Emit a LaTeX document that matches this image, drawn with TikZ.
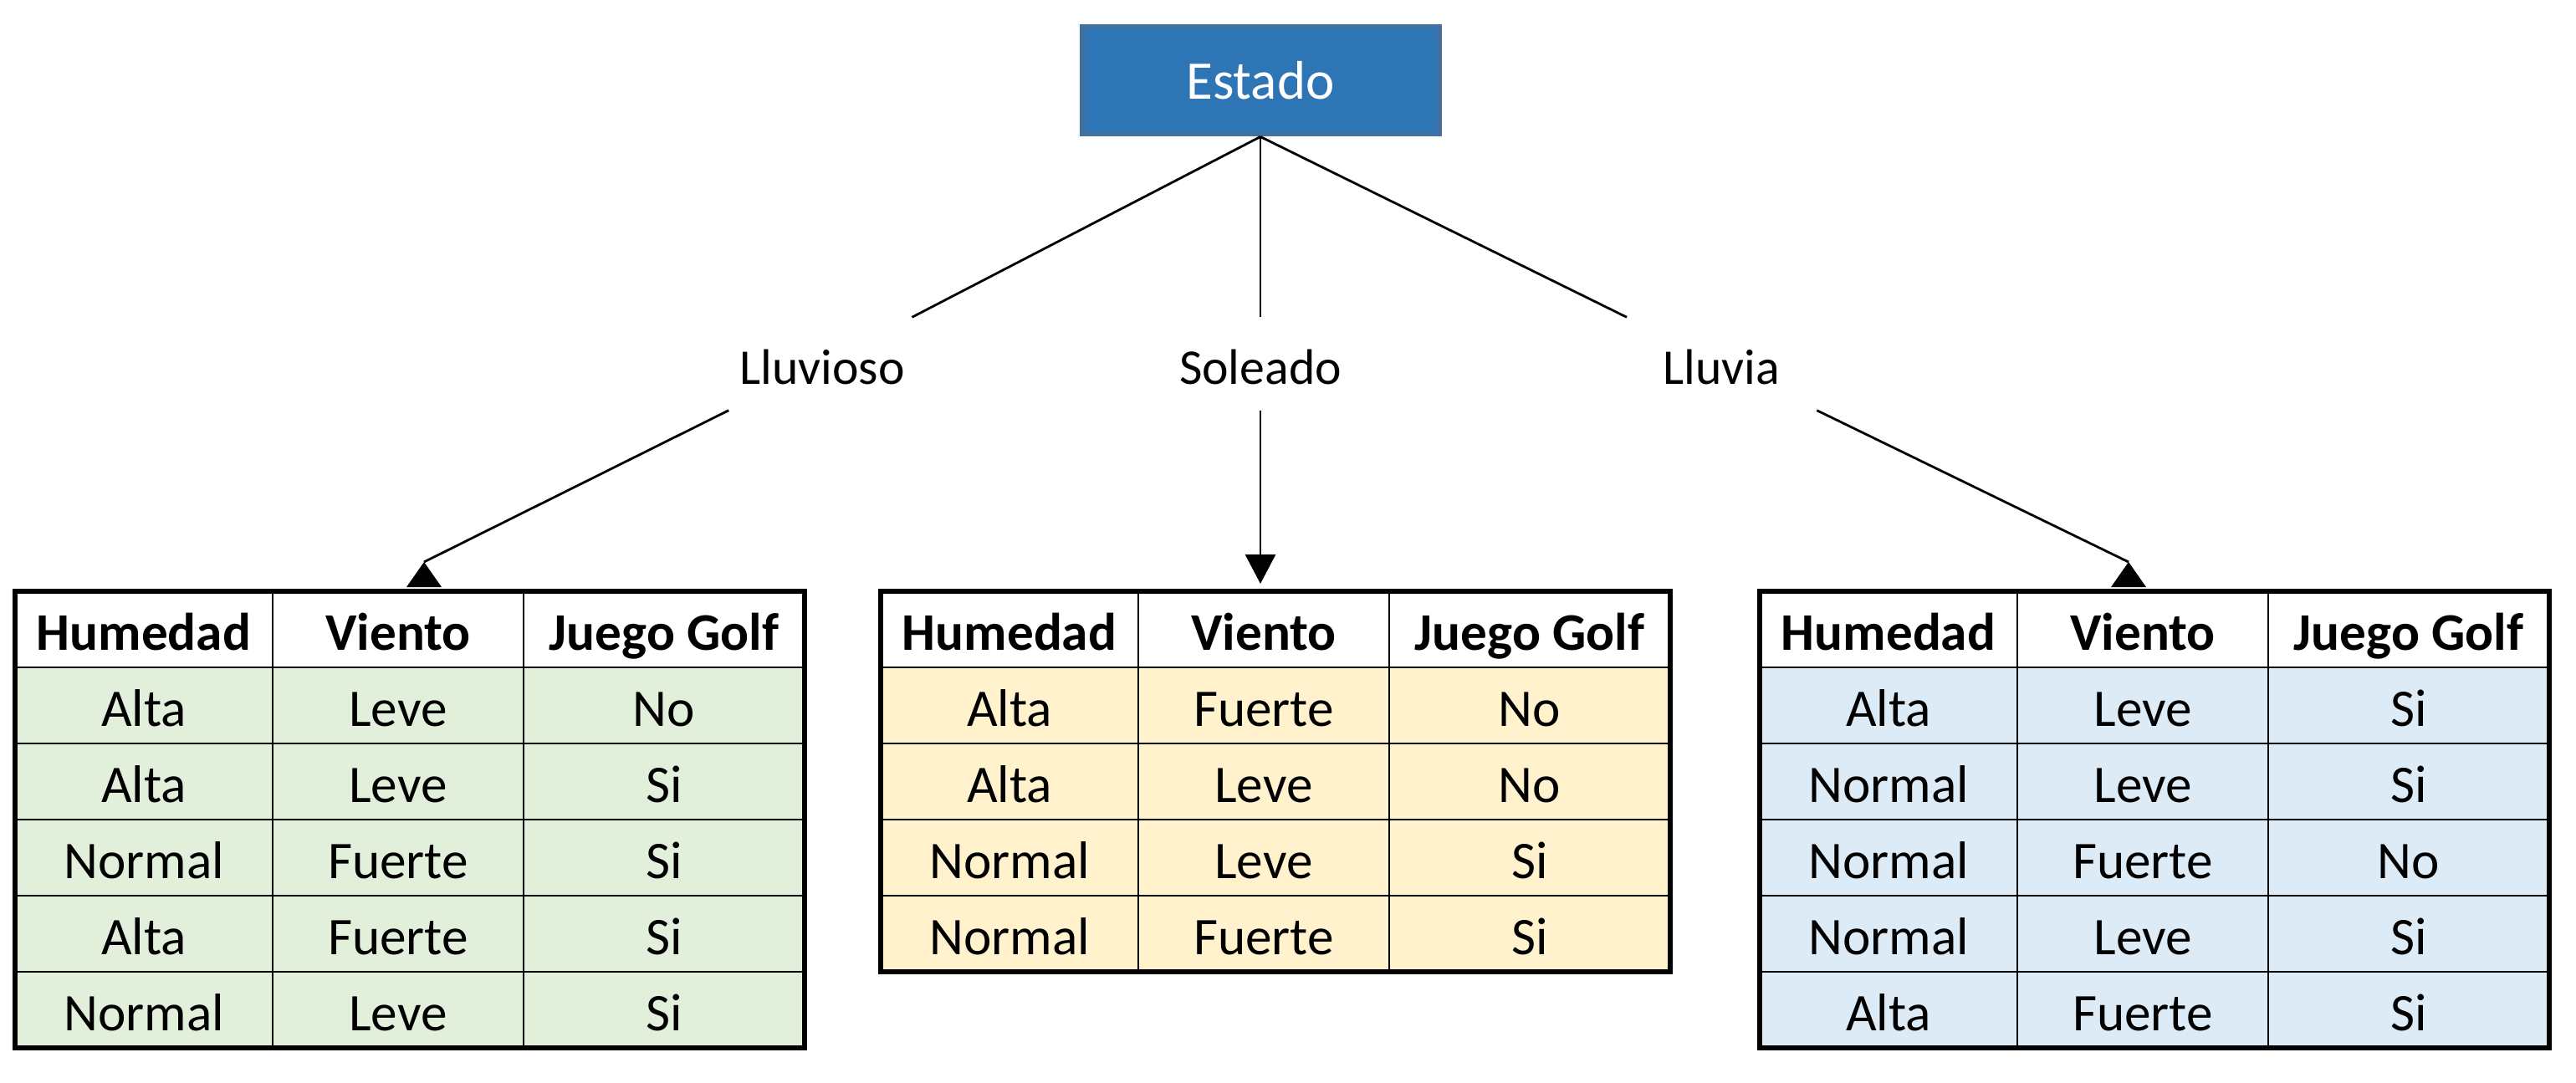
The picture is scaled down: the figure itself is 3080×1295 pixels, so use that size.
\documentclass[tikz,border=0pt]{standalone}
\usepackage{fontspec}
\setmainfont{Carlito}
\usetikzlibrary{positioning,arrows.meta}
\definecolor{azulEstado}{HTML}{2E75B6}
\definecolor{bordeEstado}{HTML}{41719C}
\definecolor{verdeTab}{HTML}{E2EFDA}
\definecolor{amarilloTab}{HTML}{FFF2CC}
\definecolor{azulTab}{HTML}{DDEBF7}

% una tabla: nombre, x izquierda, color, filas, ultima fila
\newcommand{\tabla}[5]{%
  \node[cab, minimum width=3.08cm] (#1-0-1) at (#2,707) {Humedad};
  \node[cab, minimum width=3cm] (#1-0-2) at ({#2+308},707) {Viento};
  \node[cab, minimum width=3.36cm] (#1-0-3) at ({#2+608},707) {Juego Golf};
  \foreach \a/\b/\c [count=\i] in {#4} {
    \node[celda, fill=#3, minimum width=3.08cm] (#1-\i-1) at (#2,{707+91*\i}) {\a};
    \node[celda, fill=#3, minimum width=3cm] (#1-\i-2) at ({#2+308},{707+91*\i}) {\b};
    \node[celda, fill=#3, minimum width=3.36cm] (#1-\i-3) at ({#2+608},{707+91*\i}) {\c};
  }
  \draw[line width=1.7pt] (#1-0-1.north west) rectangle (#1-#5-3.south east);
}

\begin{document}
\begin{tikzpicture}[x=0.1mm, y=-0.1mm, font=\fontsize{18}{21}\selectfont,
  celda/.style={draw, line width=0.8pt, inner sep=0pt, outer sep=0pt, minimum height=0.91cm, text height=15pt, text depth=1pt, anchor=north west},
  cab/.style={celda, fill=white, font=\fontsize{18}{21}\selectfont\bfseries},
  rama/.style={line width=0.8pt},
  etiqueta/.style={minimum width=2.4cm, minimum height=1.1cm, inner sep=0pt, text height=15pt, text depth=1pt, font=\fontsize{17}{20}\selectfont}]

\useasboundingbox (0,0) rectangle (3080,1295);

\node[draw=bordeEstado, line width=1.7pt, fill=azulEstado, text=white, minimum width=4.27cm, minimum height=1.29cm, inner sep=0pt, font=\fontsize{18.5}{22}\selectfont] (estado) at (1507,96) {Estado};

\node[etiqueta] (lluvioso) at (983,435) {Lluvioso};
\node[etiqueta] (soleado) at (1507,435) {Soleado};
\node[etiqueta] (lluvia) at (2058,435) {Lluvia};

\draw[rama] (estado.south) -- (lluvioso);
\draw[rama] (estado.south) -- (soleado);
\draw[rama] (estado.south) -- (lluvia);

\tabla{izq}{18}{verdeTab}{Alta/Leve/No, Alta/Leve/Si, Normal/Fuerte/Si, Alta/Fuerte/Si, Normal/Leve/Si}{5}
\tabla{med}{1053}{amarilloTab}{Alta/Fuerte/No, Alta/Leve/No, Normal/Leve/Si, Normal/Fuerte/Si}{4}
\tabla{der}{2104}{azulTab}{Alta/Leve/Si, Normal/Leve/Si, Normal/Fuerte/No, Normal/Leve/Si, Alta/Fuerte/Si}{5}

% flechas hacia las tablas
\coordinate (puntaIzq) at (507,672);
\coordinate (puntaMed) at (1507,698);
\coordinate (puntaDer) at (2545,672);
\draw[rama] (lluvioso) -- (puntaIzq);
\fill (puntaIzq) -- ++(-21,30) -- ++(42,0) -- cycle;
\draw[rama, -{Triangle[width=0.36cm, length=0.35cm]}] (soleado) -- (puntaMed);
\draw[rama] (lluvia) -- (puntaDer);
\fill (puntaDer) -- ++(-21,30) -- ++(42,0) -- cycle;
\end{tikzpicture}
\end{document}
